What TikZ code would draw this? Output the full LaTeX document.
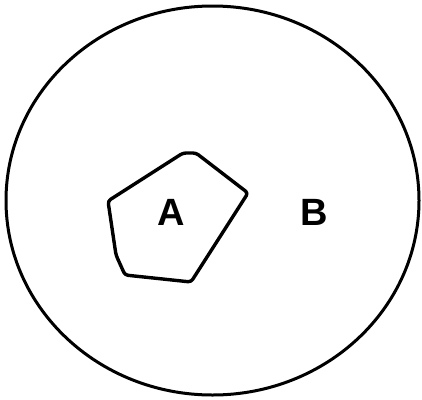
\documentclass[tikz,border=0pt]{standalone}
\usepackage{fontspec}
\setmainfont{Liberation Sans}
\begin{document}
\begin{tikzpicture}[x=1pt, y=-1pt,
  outline/.style={draw=black, line width=3pt, line join=round},
  region/.style={font=\fontsize{38}{38}\selectfont\bfseries, inner sep=0pt},
]
\useasboundingbox (0,0) rectangle (422,399);
% universe
\draw[outline] (212.5,200.5) ellipse [x radius=206.5, y radius=194.5];
% set A
\draw[outline, line width=3.4pt, rounded corners=3pt] (108,201) -- (183,153) -- (196,153) -- (248,193)
  -- (191,282) -- (125,275) -- (116,255) -- cycle;
\node[region] (regA) at (171,212) {A};
\node[region] (regB) at (314,212) {B};
\end{tikzpicture}
\end{document}
